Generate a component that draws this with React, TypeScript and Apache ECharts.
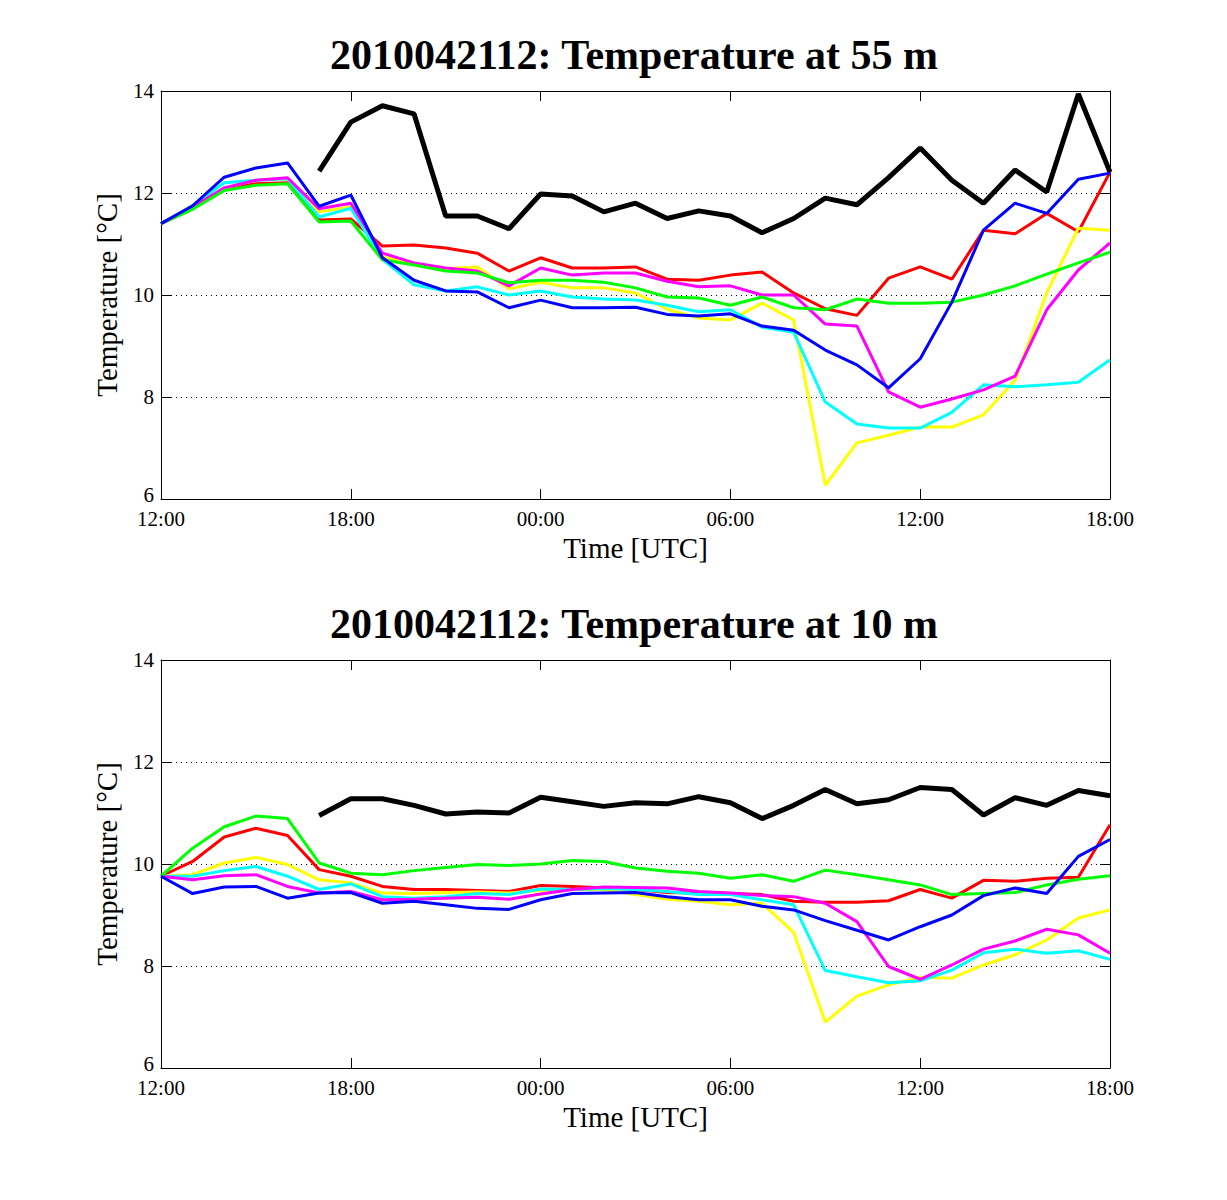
import React, { useEffect, useRef } from "react";
import * as echarts from "echarts";

// hourly times, 12:00 on day 1 to 18:00 on day 2
const hours = [
  "12:00", "13:00", "14:00", "15:00", "16:00", "17:00", "18:00", "19:00",
  "20:00", "21:00", "22:00", "23:00", "00:00", "01:00", "02:00", "03:00",
  "04:00", "05:00", "06:00", "07:00", "08:00", "09:00", "10:00", "11:00",
  "12:00", "13:00", "14:00", "15:00", "16:00", "17:00", "18:00",
];

const titles = [
  "2010042112: Temperature at 55 m",
  "2010042112: Temperature at 10 m",
];

// 55 m
const black55 = [null, null, null, null, null, 12.43, 13.39, 13.71, 13.55, 11.55, 11.55, 11.3, 11.98, 11.94, 11.63, 11.8, 11.5, 11.65, 11.55, 11.22, 11.5, 11.9, 11.77, 12.3, 12.88, 12.25, 11.8, 12.45, 12.02, 13.94, 12.41];
const red55 = [11.4, 11.7, 12.08, 12.18, 12.2, 11.47, 11.49, 10.96, 10.98, 10.92, 10.82, 10.47, 10.73, 10.53, 10.53, 10.55, 10.31, 10.29, 10.39, 10.45, 10.04, 9.73, 9.6, 10.33, 10.55, 10.31, 11.27, 11.2, 11.6, 11.24, 12.41];
const yellow55 = [11.4, 11.72, 12.1, 12.25, 12.28, 11.63, 11.73, 10.75, 10.6, 10.52, 10.55, 10.12, 10.25, 10.14, 10.14, 10.04, 9.72, 9.55, 9.51, 9.84, 9.51, 6.27, 7.1, 7.25, 7.41, 7.41, 7.65, 8.33, 10.04, 11.31, 11.27];
const green55 = [11.4, 11.68, 12.05, 12.15, 12.18, 11.43, 11.45, 10.69, 10.59, 10.47, 10.43, 10.24, 10.29, 10.29, 10.25, 10.14, 9.96, 9.94, 9.8, 9.96, 9.75, 9.71, 9.92, 9.84, 9.84, 9.86, 10.0, 10.18, 10.41, 10.63, 10.84];
const cyan55 = [11.4, 11.75, 12.2, 12.25, 12.28, 11.53, 11.7, 10.7, 10.2, 10.08, 10.16, 10.0, 10.08, 9.96, 9.92, 9.9, 9.8, 9.67, 9.71, 9.37, 9.27, 7.9, 7.47, 7.39, 7.39, 7.7, 8.24, 8.2, 8.24, 8.29, 8.73];
const magenta55 = [11.4, 11.72, 12.1, 12.25, 12.3, 11.69, 11.8, 10.82, 10.63, 10.53, 10.47, 10.18, 10.53, 10.39, 10.43, 10.43, 10.27, 10.16, 10.18, 10.0, 10.0, 9.43, 9.39, 8.1, 7.8, 7.96, 8.14, 8.41, 9.71, 10.49, 11.02];
const blue55 = [11.4, 11.75, 12.31, 12.49, 12.59, 11.74, 11.96, 10.73, 10.29, 10.08, 10.06, 9.75, 9.9, 9.75, 9.75, 9.76, 9.62, 9.59, 9.63, 9.39, 9.31, 8.92, 8.63, 8.18, 8.75, 9.86, 11.27, 11.8, 11.6, 12.27, 12.39];

// 10 m
const black10 = [null, null, null, null, null, 10.95, 11.28, 11.28, 11.15, 10.98, 11.02, 11.0, 11.31, 11.22, 11.13, 11.2, 11.18, 11.32, 11.2, 10.89, 11.15, 11.46, 11.18, 11.26, 11.5, 11.46, 10.96, 11.3, 11.15, 11.44, 11.34];
const red10 = [9.76, 10.05, 10.53, 10.7, 10.56, 9.89, 9.76, 9.56, 9.5, 9.5, 9.48, 9.46, 9.58, 9.56, 9.53, 9.5, 9.44, 9.43, 9.42, 9.4, 9.27, 9.25, 9.25, 9.28, 9.5, 9.33, 9.68, 9.66, 9.72, 9.74, 10.77];
const yellow10 = [9.76, 9.79, 10.02, 10.13, 9.99, 9.69, 9.63, 9.43, 9.42, 9.44, 9.45, 9.43, 9.48, 9.5, 9.5, 9.4, 9.31, 9.27, 9.2, 9.23, 8.66, 6.9, 7.41, 7.63, 7.78, 7.76, 8.02, 8.22, 8.51, 8.94, 9.1];
const green10 = [9.76, 10.31, 10.73, 10.94, 10.89, 10.02, 9.82, 9.79, 9.87, 9.93, 9.99, 9.97, 10.0, 10.07, 10.05, 9.92, 9.86, 9.82, 9.72, 9.79, 9.66, 9.88, 9.79, 9.69, 9.59, 9.4, 9.42, 9.44, 9.59, 9.7, 9.77];
const cyan10 = [9.76, 9.76, 9.87, 9.95, 9.76, 9.5, 9.61, 9.36, 9.33, 9.36, 9.42, 9.4, 9.51, 9.5, 9.52, 9.5, 9.46, 9.4, 9.4, 9.3, 9.2, 7.91, 7.79, 7.67, 7.71, 7.92, 8.26, 8.33, 8.25, 8.3, 8.13];
const magenta10 = [9.76, 9.69, 9.77, 9.79, 9.56, 9.43, 9.46, 9.3, 9.31, 9.33, 9.35, 9.31, 9.41, 9.5, 9.55, 9.54, 9.53, 9.46, 9.43, 9.38, 9.36, 9.23, 8.87, 7.99, 7.74, 8.02, 8.33, 8.49, 8.72, 8.61, 8.25];
const blue10 = [9.76, 9.42, 9.55, 9.56, 9.33, 9.43, 9.44, 9.23, 9.27, 9.2, 9.13, 9.11, 9.3, 9.42, 9.43, 9.44, 9.36, 9.3, 9.3, 9.17, 9.1, 8.89, 8.7, 8.51, 8.77, 9.0, 9.38, 9.53, 9.42, 10.15, 10.48];

const panels = [
  [black55, red55, yellow55, cyan55, magenta55, green55, blue55],
  [black10, red10, yellow10, cyan10, magenta10, green10, blue10],
];
const colors = ["#000000", "#ff0000", "#ffff00", "#00ffff", "#ff00ff", "#00ff00", "#0000ff"];
const widths = [5, 3, 3, 3, 3, 3, 3];

const FONT = "'Liberation Serif', 'Times New Roman', serif";
const gridTops = [91, 660];

const App: React.FC = () => {
  const chartRef = useRef<HTMLDivElement>(null);

  useEffect(() => {
    document.body.style.margin = "0";
    if (!chartRef.current) return;
    const chart = echarts.init(chartRef.current, undefined, { renderer: "svg" });

    const axisLine = { show: true, lineStyle: { color: "#000", width: 1 } };
    const tick = { show: true, inside: true, length: 10, lineStyle: { color: "#000" } };

    const xAxis: any[] = [];
    const yAxis: any[] = [];
    gridTops.forEach((_, g) => {
      xAxis.push({
        gridIndex: g,
        type: "category",
        data: hours,
        boundaryGap: false,
        axisLine,
        axisTick: { ...tick, interval: 5 },
        axisLabel: { interval: 5, color: "#000", fontSize: 21, fontFamily: FONT, margin: 9 },
        splitLine: { show: false },
        name: "Time [UTC]",
        nameLocation: "middle",
        nameGap: 34,
        nameTextStyle: { color: "#000", fontSize: 29, fontFamily: FONT },
      });
      // top edge of the box
      xAxis.push({
        gridIndex: g,
        type: "category",
        data: hours,
        position: "top",
        boundaryGap: false,
        axisLine,
        axisTick: { ...tick, interval: 5 },
        axisLabel: { show: false },
        splitLine: { show: false },
      });
      yAxis.push({
        gridIndex: g,
        type: "value",
        min: 6,
        max: 14,
        interval: 2,
        axisLine,
        axisTick: tick,
        axisLabel: {
          color: "#000",
          fontSize: 21,
          fontFamily: FONT,
          margin: 7,
          formatter: (v: number) => (v === 6 ? "{low|6}" : String(v)),
          rich: { low: { fontSize: 21, fontFamily: FONT, color: "#000", padding: [0, 0, 8, 0] } },
        },
        splitLine: { show: true, lineStyle: { color: "#000", width: 1, type: [1, 4] } },
        name: "Temperature [°C]",
        nameLocation: "middle",
        nameGap: 40,
        nameTextStyle: { color: "#000", fontSize: 29, fontFamily: FONT },
      });
      // right edge of the box
      yAxis.push({
        gridIndex: g,
        type: "value",
        min: 6,
        max: 14,
        interval: 2,
        position: "right",
        axisLine,
        axisTick: tick,
        axisLabel: { show: false },
        splitLine: { show: false },
      });
    });

    const series: any[] = [];
    panels.forEach((lines, g) => {
      lines.forEach((data, i) => {
        series.push({
          type: "line",
          xAxisIndex: g * 2,
          yAxisIndex: g * 2,
          data,
          symbol: "none",
          connectNulls: false,
          lineStyle: { color: colors[i], width: widths[i] },
          itemStyle: { color: colors[i] },
        });
      });
    });

    chart.setOption({
      animation: false,
      backgroundColor: "#fff",
      title: titles.map((text, g) => ({
        text,
        left: 629,
        top: gridTops[g] - 62,
        textAlign: "center",
        textStyle: { color: "#000", fontSize: 42, fontWeight: "bold", fontFamily: FONT },
      })),
      grid: gridTops.map((top) => ({ left: 161, top, width: 949, height: 408 })),
      xAxis,
      yAxis,
      series,
    });

    return () => {
      chart.dispose();
    };
  }, []);

  return <div ref={chartRef} style={{ width: 1227, height: 1200 }} />;
};

export default App;
